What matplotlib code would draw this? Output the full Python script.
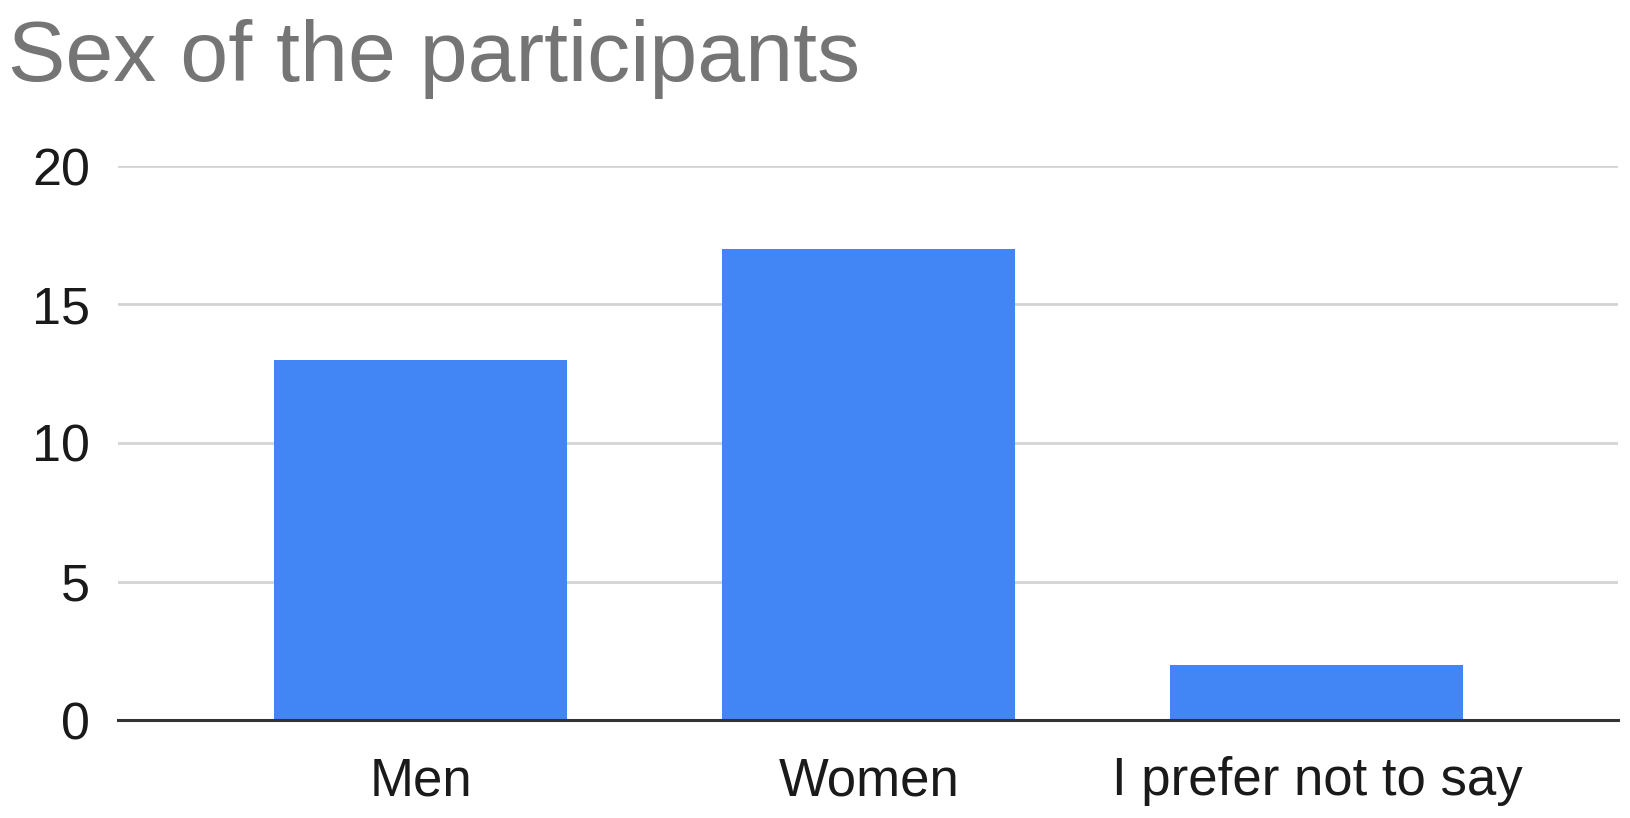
import matplotlib
matplotlib.use('Agg')
import matplotlib.pyplot as plt

# data
categories = ['Men', 'Women', 'I prefer not to say']
counts = [13, 17, 2]
y_ticks = [0, 5, 10, 15, 20]

plt.rcParams['font.family'] = ['Liberation Sans', 'DejaVu Sans']

fig = plt.figure(figsize=(16.3, 8.18), dpi=100)
# axes placed in pixel terms: left 118, right 1618, bottom y=720, top y=166
ax = fig.add_axes([118 / 1630, 1 - 720 / 818, 1500 / 1630, (720 - 166) / 818])

x = range(len(categories))
ax.bar(x, counts, width=0.654, color='#4285f4', zorder=2)

ax.set_xlim(-0.675, 2.672)
ax.set_ylim(0, 20)
ax.set_yticks(y_ticks)
ax.set_xticks(list(x))
ax.set_xticklabels(categories)

ax.tick_params(axis='y', length=0, pad=20, labelsize=37.5, labelcolor='#1a1a1a')
ax.tick_params(axis='x', length=0, pad=26, labelsize=38, labelcolor='#1a1a1a')

# grid
ax.grid(axis='y', color='#d4d4d4', linewidth=2.0, zorder=0)
ax.set_axisbelow(True)
for s in ['top', 'right', 'left']:
    ax.spines[s].set_visible(False)
ax.spines['bottom'].set_color('#333333')
ax.spines['bottom'].set_linewidth(2.2)
ax.spines['bottom'].set_zorder(3)

# title
fig.text(8 / 1630, 1 - 81 / 818, 'Sex of the participants', fontsize=62,
         color='#757575', ha='left', va='baseline')

fig.savefig('out.png', dpi=100)
